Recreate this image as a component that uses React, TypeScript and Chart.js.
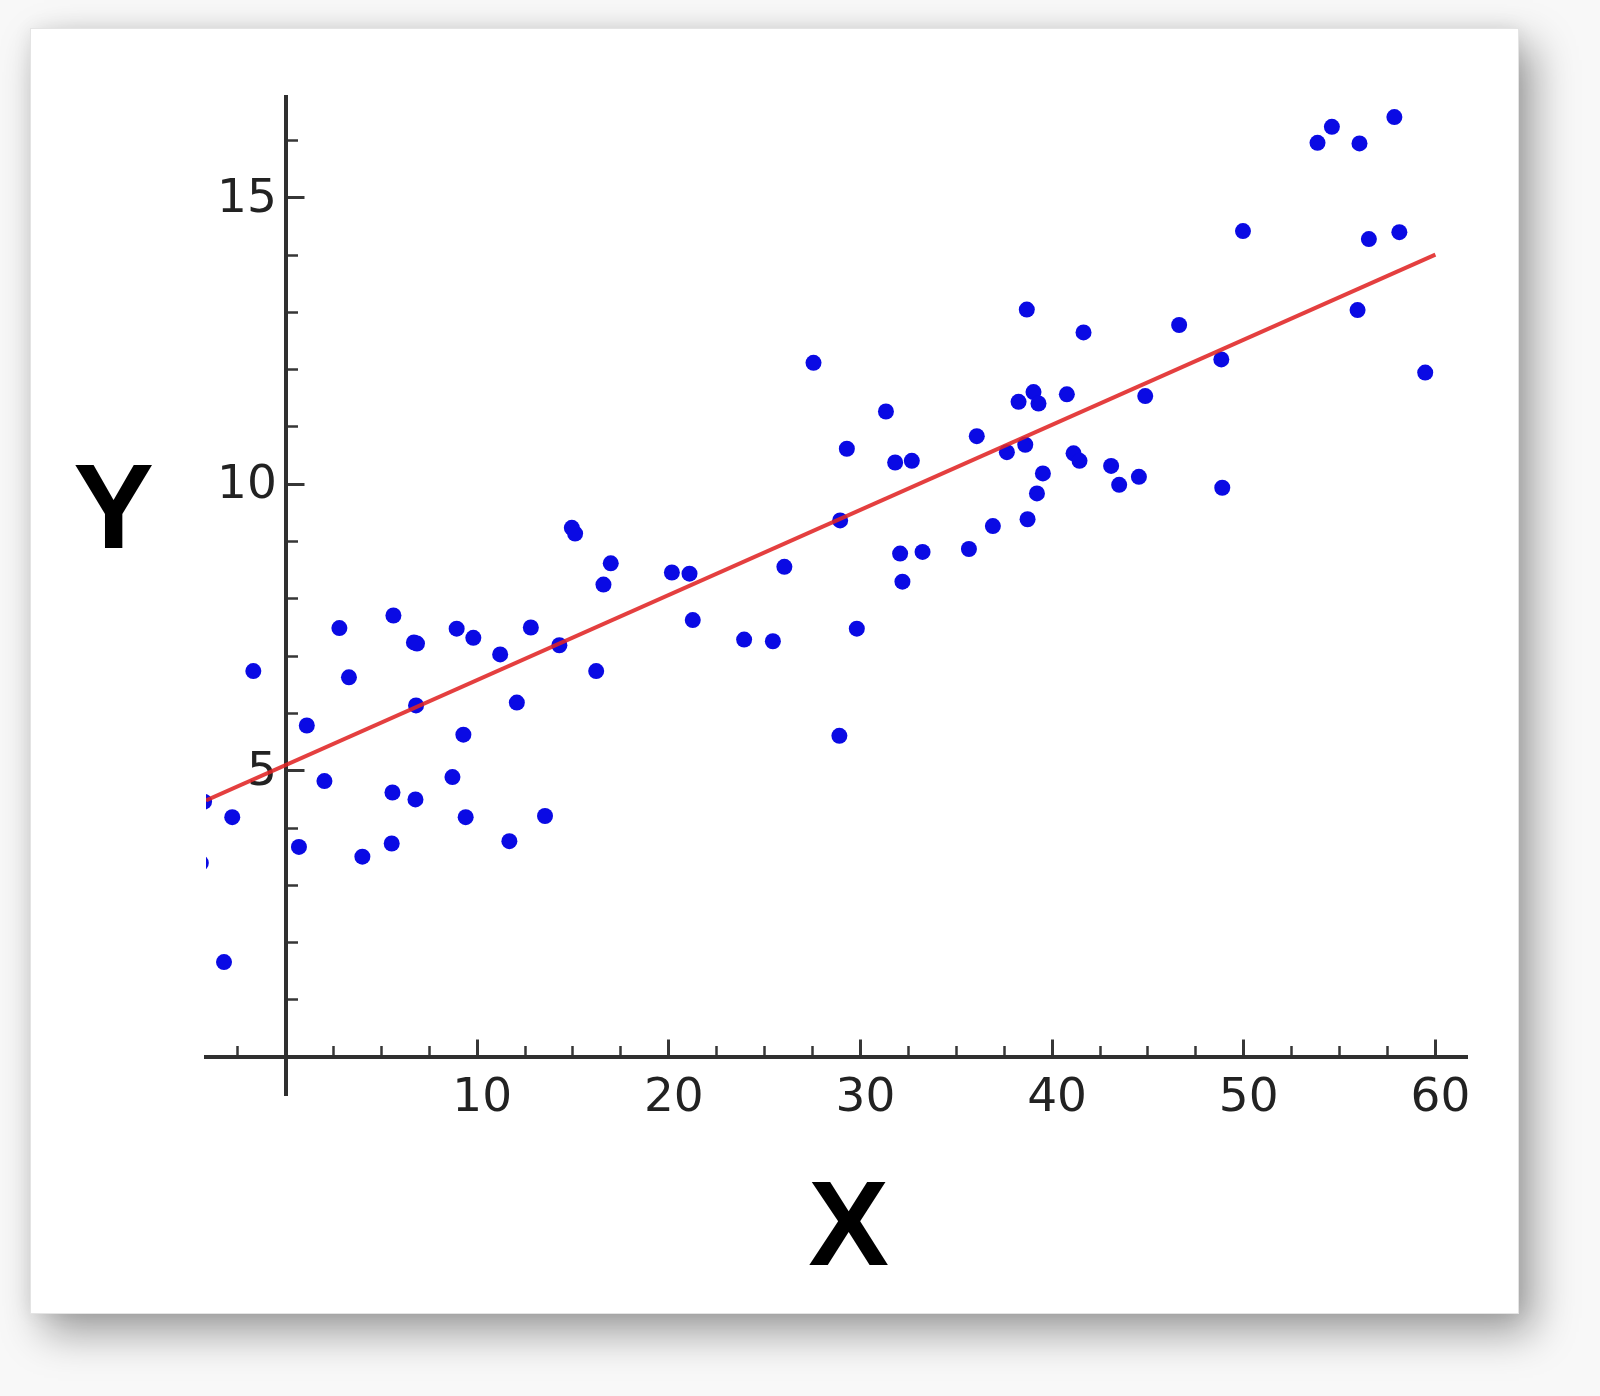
import React, { useEffect, useRef } from "react";
import { Chart, registerables } from "chart.js";

Chart.register(...registerables);

const xValues = [
  -4.25, -4.42, -3.21, -2.78, -1.68, 0.7, 1.11, 2.03, 2.81, 3.31, 4.01, 5.54, 5.58, 5.63, 6.7, 6.86,
  6.81, 6.78, 8.71, 8.93, 9.28, 9.4, 9.8, 11.2, 11.68, 12.07, 12.8, 13.54, 14.29, 14.94, 15.11, 16.21,
  16.59, 16.97, 20.16, 21.08, 21.25, 23.93, 25.43, 26.03, 27.55, 28.9, 28.94, 29.29, 29.81, 31.33, 31.81,
  32.68, 32.07, 33.24, 32.19, 35.66, 36.07, 36.91, 37.64, 38.25, 38.6, 38.68, 38.72, 39.03, 39.29, 39.21,
  39.52, 40.77, 41.12, 41.43, 41.64, 43.08, 43.5, 44.53, 44.86, 46.63, 48.83, 48.88, 49.96, 53.85, 54.6,
  55.94, 56.04, 56.53, 57.86, 58.12, 59.47,
];
const yValues = [
  4.46, 3.39, 1.66, 4.19, 6.74, 3.67, 5.79, 4.82, 7.49, 6.63, 3.5, 3.73, 4.62, 7.71, 7.24, 7.22,
  6.14, 4.5, 4.89, 7.48, 5.63, 4.19, 7.32, 7.03, 3.77, 6.19, 7.5, 4.21, 7.19, 9.24, 9.14, 6.74,
  8.25, 8.62, 8.46, 8.44, 7.63, 7.29, 7.26, 8.56, 12.12, 5.61, 9.37, 10.62, 7.48, 11.27, 10.38,
  10.41, 8.79, 8.82, 8.3, 8.87, 10.84, 9.27, 10.56, 11.44, 10.69, 13.05, 9.39, 11.61, 11.41, 9.84,
  10.19, 11.57, 10.54, 10.41, 12.65, 10.32, 9.99, 10.13, 11.54, 12.78, 12.18, 9.94, 14.42, 15.96, 16.24,
  13.04, 15.95, 14.28, 16.41, 14.4, 11.95,
];

// Regression line end points
const fitX = [-4.15, 60];
const fitY = [4.48, 14.01];

// Axis ranges and ticks
const xRange = [-4.15, 61.65];
const yRange = [-0.66, 16.76];
const xMajorTicks = [10, 20, 30, 40, 50, 60];
const xMinorTicks = [-2.5, 2.5, 5, 7.5, 12.5, 15, 17.5, 22.5, 25, 27.5, 32.5, 35, 37.5, 42.5, 45, 47.5, 52.5, 55, 57.5];
const yMajorTicks = [5, 10, 15];
const yMinorTicks = [1, 2, 3, 4, 6, 7, 8, 9, 11, 12, 13, 14, 16];

const xTitle = "X";
const yTitle = "Y";

const setTicks = (vals: number[]) => (scale: any) => {
  scale.ticks = vals.map((v) => ({ value: v }));
};

export default function App() {
  const ref = useRef<HTMLCanvasElement>(null);

  useEffect(() => {
    const canvas = ref.current;
    if (!canvas) return;
    const tickFont = { family: "'DejaVu Sans', sans-serif", size: 47 };
    const markGrid = (len: number, w: number) => ({
      drawOnChartArea: false,
      drawTicks: true,
      tickLength: len,
      tickWidth: w,
      tickColor: "#363636",
      color: "rgba(0,0,0,0)",
    });
    const chart = new Chart(canvas, {
      type: "scatter",
      data: {
        datasets: [
          {
            label: "fit",
            data: fitX.map((x, i) => ({ x, y: fitY[i] })),
            showLine: true,
            borderColor: "rgba(224,36,36,0.88)",
            borderWidth: 4,
            pointRadius: 0,
            fill: false,
            order: 0,
          },
          {
            label: "data",
            data: xValues.map((x, i) => ({ x, y: yValues[i] })),
            backgroundColor: "rgb(10,10,228)",
            borderWidth: 0,
            pointRadius: 8,
            order: 1,
            clip: 0,
          },
        ],
      },
      options: {
        responsive: false,
        animation: false,
        devicePixelRatio: 1,
        events: [],
        layout: { padding: { left: 175, right: 51, top: 68, bottom: 218 } },
        plugins: { legend: { display: false }, tooltip: { enabled: false } },
        scales: {
          x: {
            type: "linear",
            axis: "x",
            position: { y: 0 },
            min: xRange[0],
            max: xRange[1],
            afterBuildTicks: setTicks(xMajorTicks),
            grid: markGrid(-19.5, 3),
            border: { display: true, color: "#2f2f2f", width: 4 },
            ticks: { padding: 33, labelOffset: 5, font: tickFont, color: "#222", autoSkip: false, maxRotation: 0 },
          },
          x2: {
            type: "linear",
            axis: "x",
            position: { y: 0 },
            min: xRange[0],
            max: xRange[1],
            afterBuildTicks: setTicks(xMinorTicks),
            grid: markGrid(-11, 2.5),
            border: { display: false },
            ticks: { display: false, autoSkip: false },
          },
          y: {
            type: "linear",
            axis: "y",
            position: { x: 0 },
            min: yRange[0],
            max: yRange[1],
            afterBuildTicks: setTicks(yMajorTicks),
            grid: markGrid(-20.5, 3),
            border: { display: true, color: "#2f2f2f", width: 4 },
            ticks: { display: false, autoSkip: false },
          },
          y2: {
            type: "linear",
            axis: "y",
            position: { x: 0 },
            min: yRange[0],
            max: yRange[1],
            afterBuildTicks: setTicks(yMinorTicks),
            grid: markGrid(-12, 2.5),
            border: { display: false },
            ticks: { display: false, autoSkip: false },
          },
          yLabels: {
            type: "linear",
            axis: "y",
            position: { x: -0.45 },
            min: yRange[0],
            max: yRange[1],
            afterBuildTicks: setTicks(yMajorTicks),
            grid: { display: false, drawTicks: false },
            border: { display: false },
            ticks: { padding: 0, labelOffset: 2, font: tickFont, color: "#222", autoSkip: false },
          },
        },
      },
    } as any);
    return () => chart.destroy();
  }, []);

  const titleFont = "bold 121px 'Liberation Sans', Arial, sans-serif";

  return (
    <div
      style={{
        position: "absolute",
        left: 0,
        top: 0,
        width: 1600,
        height: 1396,
        background: "#f8f8f8",
        overflow: "hidden",
      }}
    >
      <div
        style={{
          position: "absolute",
          left: 30,
          top: 28,
          width: 1489,
          height: 1286,
          boxSizing: "border-box",
          background: "#ffffff",
          border: "1px solid #e4e4e4",
          boxShadow: "14px 18px 40px rgba(0,0,0,0.38), 0 0 18px rgba(0,0,0,0.07)",
        }}
      >
        <canvas
          ref={ref}
          width={1487}
          height={1284}
          style={{ position: "absolute", left: 0, top: 0, width: 1487, height: 1284, display: "block" }}
        />
        <div
          style={{
            position: "absolute",
            left: -17.5,
            top: 417,
            width: 200,
            textAlign: "center",
            font: titleFont,
            lineHeight: "121px",
            color: "#000",
          }}
        >
          {yTitle}
        </div>
        <div
          style={{
            position: "absolute",
            left: 717.5,
            top: 1134,
            width: 200,
            textAlign: "center",
            font: titleFont,
            lineHeight: "121px",
            color: "#000",
          }}
        >
          {xTitle}
        </div>
      </div>
    </div>
  );
}
